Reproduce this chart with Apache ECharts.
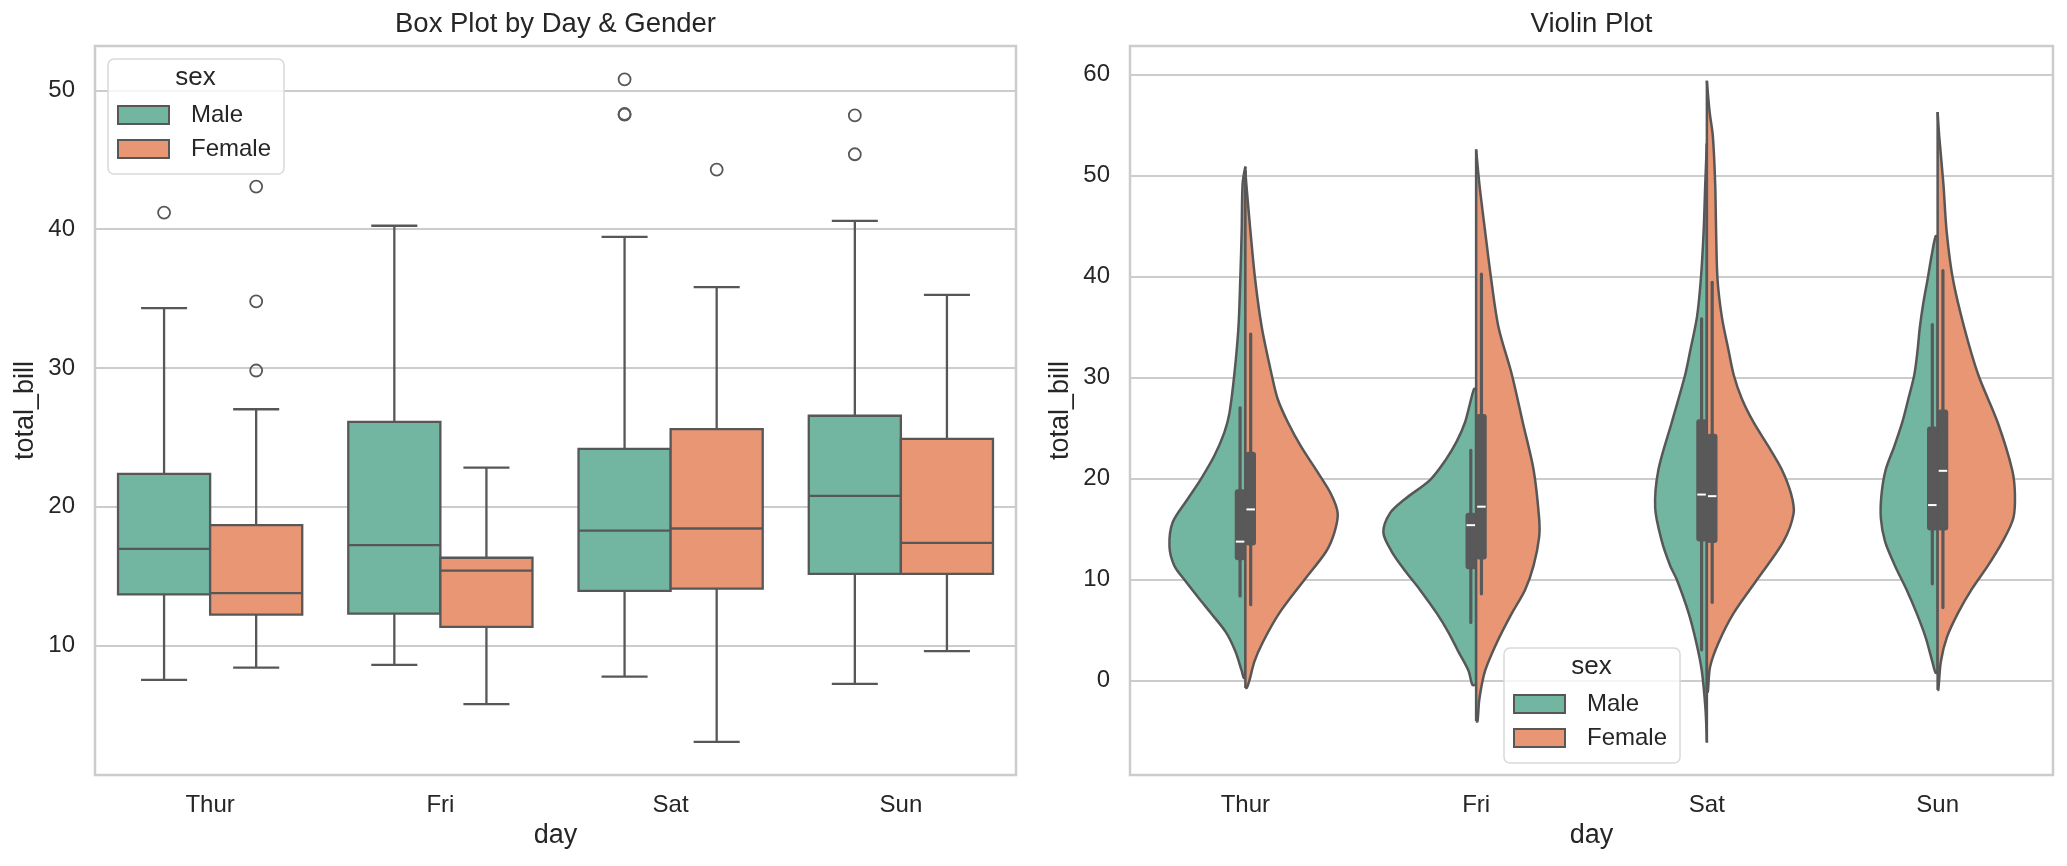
<!DOCTYPE html>
<html>
<head>
<meta charset="utf-8">
<title>Box Plot by Day &amp; Gender / Violin Plot</title>
<script src="https://cdn.jsdelivr.net/npm/echarts@6/dist/echarts.min.js"></script>
<style>
  html, body { margin: 0; padding: 0; background: #ffffff; }
  #chart { width: 2067px; height: 866px; }
</style>
</head>
<body>
<div id="chart"></div>
<script>
const days = ['Thur', 'Fri', 'Sat', 'Sun'];
const sexes = ['Male', 'Female'];

// box stats per day: [lower whisker, Q1, median, Q3, upper whisker]
const maleBox = [
  [7.53, 13.70, 16.97, 22.38, 34.32],
  [8.61, 12.31, 17.24, 26.12, 40.25],
  [7.77, 13.94, 18.28, 24.17, 39.45],
  [7.25, 15.17, 20.79, 26.56, 40.60]
];
const femaleBox = [
  [8.41, 12.23, 13.78, 18.68, 27.03],
  [5.78, 11.35, 15.41, 16.33, 22.82],
  [3.07, 14.10, 18.44, 25.60, 35.83],
  [9.60, 15.17, 17.40, 24.89, 35.27]
];
// [day index, total_bill]
const maleOutliers = [[0, 41.2], [2, 50.8], [2, 48.3], [2, 48.25], [3, 48.2], [3, 45.4]];
const femaleOutliers = [[0, 43.07], [0, 34.8], [0, 29.82], [2, 44.3]];

// violin halves: [total_bill, half width as share of the day's band], top to bottom
const thurMale = [[50.9, 0], [49.2, 0.012], [44.5, 0.016], [39.8, 0.022], [35.0, 0.030], [30.3, 0.048],
  [26.5, 0.069], [24.6, 0.091], [22.3, 0.134], [20.0, 0.192], [18.0, 0.250], [15.7, 0.315], [13.3, 0.329],
  [11.4, 0.308], [10.0, 0.264], [8.1, 0.199], [6.7, 0.149], [4.8, 0.084], [2.9, 0.043], [1.0, 0.016], [0.3, 0.007]];
const thurFemale = [[50.5, 0], [49.2, 0.004], [44.5, 0.022], [39.8, 0.042], [35.0, 0.071], [30.3, 0.114],
  [27.9, 0.140], [25.6, 0.184], [23.2, 0.241], [20.9, 0.306], [18.5, 0.371], [16.6, 0.400], [14.7, 0.386],
  [12.8, 0.350], [10.0, 0.256], [6.7, 0.147], [3.8, 0.075], [1.9, 0.039], [0.0, 0.017], [-0.7, 0.006]];
const friMale = [[28.9, 0.009], [27.5, 0.026], [25.6, 0.048], [23.7, 0.084], [21.8, 0.134], [19.9, 0.199],
  [18.0, 0.308], [16.6, 0.373], [14.7, 0.402], [12.8, 0.366], [10.9, 0.308], [9.0, 0.243], [6.7, 0.171],
  [4.8, 0.120], [2.9, 0.077], [1.0, 0.033], [-0.4, 0.016]];
const friFemale = [[52.6, 0], [49.2, 0.014], [44.5, 0.039], [39.8, 0.065], [35.0, 0.097], [30.3, 0.155],
  [25.6, 0.202], [20.9, 0.249], [16.1, 0.273], [14.2, 0.273], [11.4, 0.249], [9.0, 0.212], [6.7, 0.155],
  [3.8, 0.090], [1.0, 0.039], [-1.8, 0.014], [-4.0, 0.006]];
const satMale = [[53.2, 0], [49.2, 0.007], [44.5, 0.014], [39.8, 0.026], [36.0, 0.043], [32.7, 0.072],
  [30.3, 0.094], [25.6, 0.152], [20.9, 0.210], [17.1, 0.224], [13.8, 0.195], [11.4, 0.159], [10.0, 0.130],
  [6.7, 0.079], [3.8, 0.046], [1.0, 0.022], [-2.8, 0.006], [-6.1, 0]];
const satFemale = [[59.4, 0], [56.3, 0.012], [53.9, 0.026], [49.2, 0.036], [44.5, 0.040], [39.8, 0.046],
  [36.0, 0.065], [32.7, 0.094], [30.3, 0.116], [27.9, 0.152], [25.6, 0.202], [23.2, 0.267], [20.9, 0.325],
  [18.5, 0.365], [16.6, 0.376], [13.8, 0.332], [10.0, 0.217], [6.7, 0.116], [3.8, 0.051], [1.4, 0.014], [-1.1, 0.004]];
const sunMale = [[44.0, 0.009], [42.1, 0.026], [39.8, 0.043], [37.4, 0.062], [35.0, 0.077], [32.7, 0.087],
  [30.3, 0.101], [27.9, 0.127], [25.6, 0.153], [23.2, 0.188], [20.9, 0.225], [18.5, 0.243], [16.1, 0.246],
  [13.8, 0.228], [11.4, 0.185], [9.0, 0.134], [6.7, 0.091], [4.3, 0.052], [1.9, 0.023], [0.8, 0.009]];
const sunFemale = [[56.3, 0], [53.9, 0.007], [49.2, 0.025], [44.5, 0.039], [39.8, 0.066], [35.0, 0.115],
  [30.3, 0.176], [25.6, 0.260], [20.9, 0.323], [18.5, 0.335], [16.1, 0.328], [13.8, 0.282], [11.4, 0.218],
  [9.0, 0.146], [6.7, 0.088], [4.3, 0.040], [1.9, 0.014], [-0.9, 0.003]];

const boxTicks = [10, 20, 30, 40, 50];
const violinTicks = [0, 10, 20, 30, 40, 50, 60];

const FONT = '"Liberation Sans", Arial, sans-serif';
const TEXT = '#262626';
const LINE = '#575757';
const INNER = '#595959';
const COLORS = { Male: '#72b6a1', Female: '#e99674' };

const maleViolins = [thurMale, friMale, satMale, sunMale];
const femaleViolins = [thurFemale, friFemale, satFemale, sunFemale];

const chart = echarts.init(document.getElementById('chart'));

function renderBox(side, color) {
  return function (params, api) {
    const i = api.value(0);
    const band = api.size([1, 0])[0];
    const cx = api.coord([i, 0])[0] + side * 0.2 * band;
    const half = 0.2 * band;
    const cap = 0.1 * band;
    const y = k => api.coord([i, api.value(k)])[1];
    const lo = y(1), q1 = y(2), med = y(3), q3 = y(4), hi = y(5);
    const st = { stroke: LINE, lineWidth: 2.3, fill: null };
    return {
      type: 'group',
      children: [
        { type: 'line', shape: { x1: cx, y1: q1, x2: cx, y2: lo }, style: st },
        { type: 'line', shape: { x1: cx, y1: q3, x2: cx, y2: hi }, style: st },
        { type: 'line', shape: { x1: cx - cap, y1: lo, x2: cx + cap, y2: lo }, style: st },
        { type: 'line', shape: { x1: cx - cap, y1: hi, x2: cx + cap, y2: hi }, style: st },
        { type: 'rect', shape: { x: cx - half, y: q3, width: 2 * half, height: q1 - q3 },
          style: { fill: color, stroke: LINE, lineWidth: 2.3 } },
        { type: 'line', shape: { x1: cx - half, y1: med, x2: cx + half, y2: med }, style: st }
      ]
    };
  };
}

function renderOutlier(side) {
  return function (params, api) {
    const band = api.size([1, 0])[0];
    const p = api.coord([api.value(0), api.value(1)]);
    return {
      type: 'circle',
      shape: { cx: p[0] + side * 0.2 * band, cy: p[1], r: 6 },
      style: { fill: 'none', stroke: LINE, lineWidth: 1.8 }
    };
  };
}

function renderViolin(shapes, side, color) {
  return function (params, api) {
    const i = api.value(0);
    const band = api.size([1, 0])[0];
    const cx = api.coord([i, 0])[0];
    const pts = shapes[i].map(([v, w]) => [cx + side * w * band, api.coord([i, v])[1]]);
    const first = pts[0], last = pts[pts.length - 1];
    if (first[0] !== cx) pts.unshift([cx, first[1]]);
    if (last[0] !== cx) pts.push([cx, last[1]]);
    const yTop = pts[0][1], yBot = pts[pts.length - 1][1];
    return {
      type: 'group',
      children: [
        // open smoothed outline; the fill closes itself along the split line
        { type: 'polyline', shape: { points: pts, smooth: 0.3 },
          style: { fill: color, stroke: LINE, lineWidth: 2.5 } },
        { type: 'line', shape: { x1: cx, y1: yTop, x2: cx, y2: yBot },
          style: { stroke: LINE, lineWidth: 2.5 } }
      ]
    };
  };
}

// inner boxes: seaborn put the female stats left of the split, male stats right
function renderInner(params, api) {
  const i = api.value(0);
  const band = api.size([1, 0])[0];
  const cx = api.coord([i, 0])[0];
  const y = v => api.coord([i, v])[1];
  const bw = 0.046 * band;
  const children = [];
  [[femaleBox[i], -1], [maleBox[i], 1]].forEach(([s, side]) => {
    const x = cx + side * 0.023 * band;
    children.push({ type: 'line', shape: { x1: x, y1: y(s[0]), x2: x, y2: y(s[4]) },
      style: { stroke: INNER, lineWidth: 3.2, lineCap: 'round' } });
    children.push({ type: 'rect', shape: { x: x - bw / 2, y: y(s[3]) - 3, width: bw, height: y(s[1]) - y(s[3]) + 6, r: 3 },
      style: { fill: INNER } });
    children.push({ type: 'line', shape: { x1: x - bw * 0.4, y1: y(s[2]), x2: x + bw * 0.4, y2: y(s[2]) },
      style: { stroke: '#ffffff', lineWidth: 2 } });
  });
  return { type: 'group', children };
}

function xAxisFor(gridIndex) {
  return {
    type: 'category', gridIndex, data: days, boundaryGap: true,
    name: 'day', nameLocation: 'middle', nameGap: 47,
    nameTextStyle: { fontFamily: FONT, fontSize: 27, color: TEXT },
    axisLine: { show: false }, axisTick: { show: false }, splitLine: { show: false },
    axisLabel: { margin: 18, fontFamily: FONT, fontSize: 24, color: TEXT }
  };
}

function yAxisFor(gridIndex, min, max, ticks) {
  return {
    type: 'value', gridIndex, min, max, splitNumber: 5,
    name: 'total_bill', nameLocation: 'middle', nameGap: 56,
    nameTextStyle: { fontFamily: FONT, fontSize: 27, color: TEXT },
    axisLine: { show: false }, axisTick: { show: false },
    axisLabel: {
      margin: 20, fontFamily: FONT, fontSize: 24, color: TEXT,
      formatter: v => (ticks.indexOf(Math.round(v * 1000) / 1000) >= 0 ? String(v) : '')
    },
    splitLine: { lineStyle: { color: '#cccccc', width: 1.8 } }
  };
}

function legendAt(left, top) {
  return {
    orient: 'vertical', left, top,
    padding: [44, 13, 13, 9],
    itemGap: 10, itemWidth: 51, itemHeight: 18,
    backgroundColor: 'rgba(255,255,255,0.8)',
    borderColor: '#d9d9d9', borderWidth: 1.5, borderRadius: 6,
    selectedMode: false, icon: 'rect',
    textStyle: { fontFamily: FONT, fontSize: 24, color: TEXT, padding: [0, 0, 0, 17] },
    data: sexes.map(name => ({
      name, itemStyle: { color: COLORS[name], borderColor: LINE, borderWidth: 2 }
    }))
  };
}

function label(text, x, y, size, z) {
  return {
    type: 'text', x, y, z: z || 10,
    style: {
      text, font: size + 'px ' + FONT, fill: TEXT,
      align: 'center', verticalAlign: 'middle', textAlign: 'center', textVerticalAlign: 'middle'
    }
  };
}

const gridStyle = {
  show: true, borderColor: '#cccccc', borderWidth: 2.5, backgroundColor: '#ffffff',
  containLabel: false, outerBoundsMode: 'none'
};

const dayIndex = days.map((d, i) => [i, 0]);

const option = {
  animation: false,
  backgroundColor: '#ffffff',
  textStyle: { fontFamily: FONT },
  grid: [
    Object.assign({ left: 95, top: 46, width: 921, height: 729 }, gridStyle),
    Object.assign({ left: 1130, top: 46, width: 923, height: 729 }, gridStyle)
  ],
  xAxis: [xAxisFor(0), xAxisFor(1)],
  yAxis: [yAxisFor(0, 0.68, 53.2, boxTicks), yAxisFor(1, -9.32, 62.84, violinTicks)],
  legend: [legendAt(108, 59), legendAt(1504, 648)],
  graphic: [
    label('Box Plot by Day & Gender', 555.5, 24.5, 27.5),
    label('Violin Plot', 1591.5, 24.5, 27.5),
    label('sex', 195.5, 77.5, 26, 100),
    label('sex', 1591.5, 667, 26, 100)
  ],
  series: [
    {
      name: 'Male', type: 'custom', xAxisIndex: 0, yAxisIndex: 0,
      itemStyle: { color: COLORS.Male },
      encode: { x: 0, y: [1, 2, 3, 4, 5] },
      data: maleBox.map((s, i) => [i].concat(s)),
      renderItem: renderBox(-1, COLORS.Male)
    },
    {
      name: 'Female', type: 'custom', xAxisIndex: 0, yAxisIndex: 0,
      itemStyle: { color: COLORS.Female },
      encode: { x: 0, y: [1, 2, 3, 4, 5] },
      data: femaleBox.map((s, i) => [i].concat(s)),
      renderItem: renderBox(1, COLORS.Female)
    },
    {
      name: 'Male', type: 'custom', xAxisIndex: 0, yAxisIndex: 0,
      itemStyle: { color: COLORS.Male },
      encode: { x: 0, y: 1 }, data: maleOutliers, renderItem: renderOutlier(-1)
    },
    {
      name: 'Female', type: 'custom', xAxisIndex: 0, yAxisIndex: 0,
      itemStyle: { color: COLORS.Female },
      encode: { x: 0, y: 1 }, data: femaleOutliers, renderItem: renderOutlier(1)
    },
    {
      name: 'Male', type: 'custom', xAxisIndex: 1, yAxisIndex: 1,
      itemStyle: { color: COLORS.Male },
      encode: { x: 0, y: 1 }, data: dayIndex,
      renderItem: renderViolin(maleViolins, -1, COLORS.Male)
    },
    {
      name: 'Female', type: 'custom', xAxisIndex: 1, yAxisIndex: 1,
      itemStyle: { color: COLORS.Female },
      encode: { x: 0, y: 1 }, data: dayIndex,
      renderItem: renderViolin(femaleViolins, 1, COLORS.Female)
    },
    {
      name: 'inner', type: 'custom', xAxisIndex: 1, yAxisIndex: 1, z: 3,
      encode: { x: 0, y: 1 }, data: dayIndex, renderItem: renderInner
    }
  ]
};

chart.setOption(option);
</script>
</body>
</html>
